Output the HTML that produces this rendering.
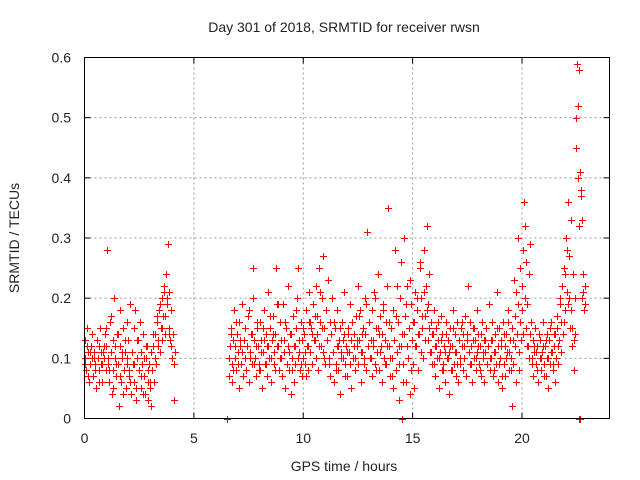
<!DOCTYPE html>
<html><head><meta charset="utf-8"><style>
html,body{margin:0;padding:0;background:#fff}
svg{display:block;font-family:"Liberation Sans",sans-serif}
</style></head><body>
<svg id="chart" width="640" height="480" viewBox="0 0 640 480" xmlns="http://www.w3.org/2000/svg">
<rect width="640" height="480" fill="#fff"/>
<text x="344" y="32" font-size="14" text-anchor="middle" fill="#222">Day 301 of 2018, SRMTID for receiver rwsn</text>
<text x="0" y="0" transform="translate(19,238) rotate(-90)" font-size="14" text-anchor="middle" fill="#222">SRMTID / TECUs</text>
<text x="344" y="471" font-size="14" text-anchor="middle" fill="#222">GPS time / hours</text>
<g id="grid"></g>
<g id="ticks"></g>
<g id="marks"></g>
<rect x="84.5" y="57.5" width="525" height="361" fill="none" stroke="#000" stroke-width="1"/>
</svg>
<script>
const xTicks=[0,5,10,15,20];
const yTicks=[0,0.1,0.2,0.3,0.4,0.5,0.6];
const yTickLabels=["0","0.1","0.2","0.3","0.4","0.5","0.6"];
const segAStart=0, segAStep=0.04;
const segAValues=[.10,.13,.08,.15,.11,.06,.09,.12,.10,.14,.07,.11,.09,.05,.13,.10,.08,.12,.15,.09,.06,.11,.10,.14,.08,
.12,.28,.09,.06,.16,.11,.04,.13,.08,.20,.10,.07,.14,.09,.02,.12,.18,.06,.10,.15,.08,.11,.05,.16,.09,
.13,.07,.19,.04,.11,.09,.15,.06,.18,.03,.10,.13,.08,.16,.05,.11,.09,.14,.07,.04,.10,.12,.06,.03,.09,
.05,.02,.08,.12,.06,.10,.14,.09,.16,.12,.18,.11,.15,.20,.13,.17,.22,.14,.24,.19,.29,.15,.21,.13,.18,
.10,.14,.03,.11];
const segA2Start=0.02, segA2Step=0.08;
const segA2Values=[.09,.12,.07,.11,.14,.10,.08,.13,.06,.11,.09,.12,.15,
.10,.08,.17,.05,.12,.09,.14,.07,.11,.04,.13,.10,.08,
.06,.11,.09,.05,.13,.08,.07,.04,.10,.12,.08,.06,.11,
.14,.10,.17,.13,.19,.15,.21,.17,.20,.14,.12,.10,.09];
const segBStart=6.6, segBStep=0.04;
const segBValues=[.07,.12,.15,.09,.06,.13,.18,.10,.08,.14,
.11,.05,.16,.12,.09,.19,.07,.13,.10,.15,.08,.12,.17,.06,.11,.14,.09,.20,.25,.13,.10,.07,.15,.12,.09,
.16,.08,.13,.05,.11,.18,.09,.14,.07,.12,.21,.10,.15,.06,.13,.17,.09,.11,.14,.25,.19,.12,.08,.16,.10,
.13,.07,.19,.11,.05,.15,.09,.22,.12,.08,.14,.04,.10,.17,.06,.12,.09,.15,.20,.25,.11,.08,.16,.13,.07,
.10,.14,.09,.18,.12,.08,.16,.21,.11,.15,.09,.19,.13,.17,.22,.10,.14,.08,.25,.16,.12,.20,.27,.11,.15,
.09,.18,.13,.23,.10,.16,.07,.14,.20,.11,.06,.15,.09,.12,.18,.08,.13,.04,.11,.16,.10,.14,.21,.09,.12,
.07,.15,.11,.19,.13,.05,.16,.10,.14,.08,.17,.12,.22,.09,.13,.18,.06,.11,.15,.10,.20,.14,.08,.31,.12,
.16,.10,.13,.07,.18,.12,.21,.09,.15,.11,.24,.14,.08,.17,.12,.06,.19,.10,.13,.16,.09,.22,.35,.12,.07,
.15,.10,.05,.18,.13,.28,.08,.11,.16,.03,.12,.20,.26,.14,.09,.30,.17,.06,.12,.22,.10,.15,.04,.19,.13,
.09,.16,.05,.21,.12,.18,.08,.14,.25,.11,.20,.15,.10,.28,.17,.22,.32,.13,.19,.24,.11,.16,.09,.14,.18,
.12,.07,.15,.10,.13,.05,.11,.17,.08,.14,.09,.12,.06,.16,.10,.13,.04,.11,.15,.08,.12,.18,.09,.14,.07,
.11,.16,.06,.13,.09,.15,.12,.08,.14,.10,.17,.07,.13,.22,.11,.09,.16,.12,.06,.15,.10,.13,.08,.18,.11,
.14,.09,.12,.07,.16,.10,.13,.06,.11,.15,.09,.12,.19,.08,.13,.10,.16,.07,.11,.14,.09,.21,.12,.06,.15,
.10,.13,.05,.16,.09,.12,.07,.14,.11,.18,.08,.13,.10,.02,.15,.09,.23,.12,.06,.14,.19,.11,.08,.16,.13,
.22,.28,.36,.32,.15,.26,.19,.12,.24,.29,.16,.10,.13,.07,.11,.15,.09,.12,.06,.14,.10,.13,.08,.11,.16,
.09,.12,.07,.14,.10,.05,.13,.09,.16,.11,.08,.14,.12,.06,.10,.15,.09,.13,.20,.11,.16,.22,.14,.25,.18,
.30,.21,.36,.19,.27,.15,.33,.12,.24,.08,.20,.14,.45,.59,.52,.58,.41,.37,.33,.20,.24,.18,.22];
const segB2Start=6.62, segB2Step=0.08;
const segB2Values=[.10,.14,.08,.12,.16,.09,.13,.11,.07,.15,.12,.18,.10,.14,.09,.12,.16,.08,.11,.15,.13,.09,.12,.17,.10,
.14,.08,.12,.19,.10,.07,.13,.16,.09,.11,.14,.08,.12,.18,.10,.13,.09,.15,.11,.07,.12,.16,.14,.19,.13,
.17,.12,.21,.15,.10,.18,.13,.09,.14,.11,.16,.08,.12,.15,.10,.13,.07,.11,.14,.09,.16,.12,.10,.13,.17,
.11,.14,.09,.19,.12,.16,.10,.13,.20,.08,.15,.11,.14,.18,.09,.12,.16,.10,.07,.13,.17,.22,.09,.12,.06,
.14,.19,.10,.23,.08,.16,.12,.20,.14,.26,.17,.21,.13,.18,.15,.11,.14,.09,.12,.16,.10,.13,.08,.11,.14,
.10,.12,.08,.15,.11,.09,.13,.10,.16,.12,.07,.14,.11,.09,.13,.15,.10,.12,.08,.14,.11,.13,.09,.12,.10,
.13,.08,.11,.15,.09,.12,.07,.14,.10,.16,.11,.08,.13,.17,.21,.30,.25,.18,.14,.20,.12,.10,.14,.09,.12,
.11,.08,.14,.10,.12,.07,.13,.10,.15,.11,.09,.14,.17,.12,.19,.22,.16,.24,.28,.20,.18,.15,.13,.50,.40,
.32,.38,.21,.19];
const zeroHours=[6.5,6.52,14.5,22.62,22.66];
const zeroValues=[0,0,0,0,0];

const X0=84.5,X1=609.5,Y0=418.5,Y1=57.5,XMAX=24,YMAX=0.6;
const sx=v=>X0+(X1-X0)*v/XMAX;
const sy=v=>Y0-(Y0-Y1)*v/YMAX;
const NS="http://www.w3.org/2000/svg";
const grid=document.getElementById('grid'),ticks=document.getElementById('ticks'),marks=document.getElementById('marks');
function mk(tag,attrs,parent){const e=document.createElementNS(NS,tag);for(const k in attrs)e.setAttribute(k,attrs[k]);parent.appendChild(e);return e;}
xTicks.forEach(t=>{
  const x=sx(t);
  if(t>0){const g=mk('line',{x1:x,x2:x,y1:Y1,y2:Y0,stroke:'#999','stroke-dasharray':'2,3'},grid);
  
  }
  const a=mk('line',{x1:x,x2:x,y1:Y0,y2:Y0-6,stroke:'#000'},ticks);
  
  
  const b=mk('line',{x1:x,x2:x,y1:Y1,y2:Y1+6,stroke:'#000'},ticks);
  
  
  const l=mk('text',{x:x,y:443,'font-size':14,'text-anchor':'middle',fill:'#222'},ticks);
  l.textContent=String(t);
  
  
});
yTicks.forEach((t,i)=>{
  const y=sy(t);
  if(t>0&&t<YMAX){const g=mk('line',{x1:X0,x2:X1,y1:y,y2:y,stroke:'#999','stroke-dasharray':'2,3'},grid);
  
  }
  const a=mk('line',{x1:X0,x2:X0+6,y1:y,y2:y,stroke:'#000'},ticks);
  
  
  const b=mk('line',{x1:X1,x2:X1-6,y1:y,y2:y,stroke:'#000'},ticks);
  
  
  const l=mk('text',{x:71,y:y+5,'font-size':14,'text-anchor':'end',fill:'#222'},ticks);
  l.textContent=yTickLabels[i];
  
  
});
let d='';
function addPts(hours,vals){vals.forEach((v,i)=>{const x=Math.round(sx(hours(i)))+0.5,y=Math.round(sy(v))+0.5;d+=`M${x-3.5} ${y}h7M${x} ${y-3.5}v7`;});}
addPts(i=>segAStart+i*segAStep,segAValues);
addPts(i=>segA2Start+i*segA2Step,segA2Values);
addPts(i=>segBStart+i*segBStep,segBValues);
addPts(i=>segB2Start+i*segB2Step,segB2Values);
addPts(i=>zeroHours[i],zeroValues);
const p=mk('path',{d:d,stroke:'#ff0000','stroke-width':1,fill:'none'},marks);


</script>
</body></html>
